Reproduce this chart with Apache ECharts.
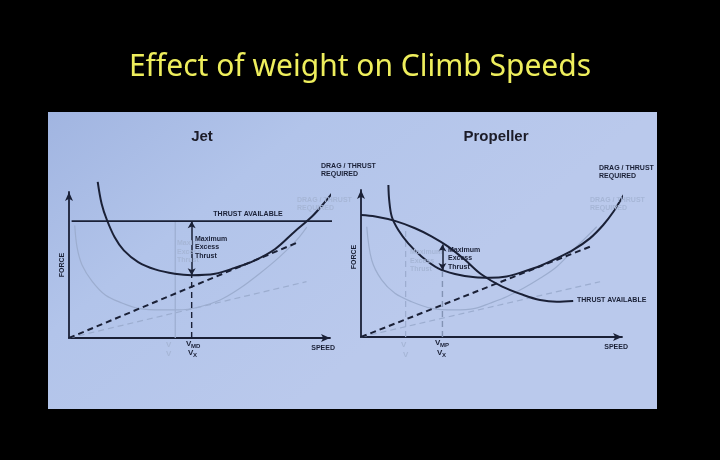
<!DOCTYPE html>
<html>
<head>
<meta charset="utf-8">
<script src="https://cdn.jsdelivr.net/npm/echarts@6/dist/echarts.min.js"></script>
<style>
  html, body { margin: 0; padding: 0; background: #000; }
  #chart { width: 720px; height: 460px; }
</style>
</head>
<body>
<div id="chart"></div>
<script>
// ---- Jet: drag / thrust required (heavy) ----
const jetSpeed = [11, 12.5, 14.5, 17.5, 21, 26.5, 33, 40.5, 47, 56, 63.5, 71, 79, 86.5, 93, 98, 102, 104.5];
const jetDrag = [107, 92, 81, 69, 60, 52, 47, 44, 43, 44, 48, 53, 61, 73, 83, 93, 102, 108];
const jetThrustSpeed = [1, 103];
const jetThrust = [80, 80];
const jetTangentSpeed = [0, 87];
const jetTangentForce = [0, 65];
const jetVmd = 47;        // speed of V_MD / V_X
const jetVmdDrag = 43;    // drag at V_MD

// jet, light aircraft (faint curves)
const jetLightSpeed = [2.2, 3.1, 5, 8.8, 13.9, 20.3, 26.7, 35.6, 42, 50.2, 57.9, 65.5, 73.2, 80.8, 87.2, 91.1];
const jetLightDrag = [77, 62, 50, 39, 29.5, 24, 20.3, 19.2, 19.2, 21.4, 26, 34, 44.3, 55.7, 67, 76];
const jetLightTangentSpeed = [0, 91];
const jetLightTangentForce = [0, 38.6];
const jetLightVmd = 40.7;

// ---- Propeller ----
const propSpeed = [10.5, 10.8, 11.8, 14.3, 18.1, 23.3, 29.6, 36, 43.7, 49.4, 55.8, 62.2, 68.6, 75, 81.3, 87.7, 92.8, 96.7, 99.9, 103.1];
const propDrag = [103.4, 93.2, 81.8, 72.8, 63.7, 54.6, 46.7, 42.9, 40.6, 40.3, 41.2, 44.4, 48.3, 53.5, 59.2, 67.1, 76.2, 85.2, 94.4, 103.4];
const propThrustSpeed = [0, 5.5, 13, 20.7, 27, 33.4, 39.8, 46.2, 53.9, 62.2, 68.6, 75, 81.3];
const propThrust = [83, 82, 79, 74, 68.5, 61.5, 52.5, 42.5, 34.5, 28.6, 25.2, 24, 24.5];
const propTangentSpeed = [0, 87.7];
const propTangentForce = [0, 61.4];
const propVmp = 31.2;
const propVmpDrag = 45.5;
const propVmpThrust = 63;

const propLightSpeed = [2.2, 4.1, 7.9, 13, 19.4, 27.1, 36, 43.7, 49.4, 55.8, 62.2, 68.6, 75, 81.3, 86.5, 90.3];
const propLightDrag = [75, 52.4, 38.8, 29.7, 24, 19.5, 18.4, 19.5, 23, 27.4, 33.1, 39.9, 47.8, 59.2, 68.2, 75];
const propLightTangentSpeed = [0, 91.6];
const propLightTangentForce = [0, 37.6];
const propLightVmp = 17.1;
const propLightVmpTop = 74;

const INK = '#1a2036';
const FAINT = '#9cadcf';
const FAINT_TEXT = '#a6b6d6';
const LBL = 'bold 7px "Liberation Sans", Arial, sans-serif';
const V_FONT = 'bold 8px "Liberation Sans", Arial, sans-serif';
const SUB_FONT = 'bold 6px "Liberation Sans", Arial, sans-serif';

const pair = (xs, ys) => xs.map((x, i) => [x, ys[i]]);

function curve(idx, xs, ys, opts) {
  opts = opts || {};
  return {
    type: 'line',
    xAxisIndex: idx,
    yAxisIndex: idx,
    data: pair(xs, ys),
    smooth: opts.smooth ? 0.35 : false,
    showSymbol: false,
    clip: false,
    silent: true,
    lineStyle: {
      color: opts.color || INK,
      width: opts.width || 2,
      type: opts.dashed ? [6, 4] : 'solid'
    },
    z: opts.z || 3
  };
}

function arrow(idx, speed, top, bottom) {
  return {
    type: 'line',
    xAxisIndex: idx,
    yAxisIndex: idx,
    data: [],
    silent: true,
    markLine: {
      silent: true,
      symbol: ['arrow', 'arrow'],
      symbolSize: [6, 7],
      label: { show: false },
      lineStyle: { color: INK, width: 1.5, type: 'solid' },
      data: [[{ coord: [speed, top] }, { coord: [speed, bottom] }]]
    },
    z: 4
  };
}

function axisPair(idx) {
  const line = { show: true, symbol: ['none', 'arrow'], symbolSize: [6, 9], lineStyle: { color: INK, width: 1.8 } };
  return {
    x: { type: 'value', gridIndex: idx, min: 0, max: 100, axisLine: line, axisTick: { show: false }, axisLabel: { show: false }, splitLine: { show: false } },
    y: { type: 'value', gridIndex: idx, min: 0, max: 100, axisLine: line, axisTick: { show: false }, axisLabel: { show: false }, splitLine: { show: false } }
  };
}

function txt(x, y, text, o) {
  o = o || {};
  return {
    type: 'text',
    x: x, y: y,
    rotation: o.rot || 0,
    silent: true,
    z: 10,
    style: {
      text: text,
      font: o.font || LBL,
      fill: o.fill || INK,
      textAlign: o.align || 'left',
      align: o.align || 'left',
      textVerticalAlign: 'middle',
      verticalAlign: 'middle',
      lineHeight: o.lh || 8.5
    }
  };
}

const ax0 = axisPair(0), ax1 = axisPair(1);

const graphics = [
  {
    type: 'rect', z: -10, silent: true,
    shape: { x: 48, y: 112, width: 609, height: 297 },
    style: {
      fill: new echarts.graphic.LinearGradient(0, 0, 0.4, 1, [
        { offset: 0, color: '#a1b5e1' },
        { offset: 0.45, color: '#b2c4ea' },
        { offset: 1, color: '#bac9ec' }
      ])
    }
  },
  txt(360, 67, 'Effect of weight on Climb Speeds', { align: 'center', fill: '#eeee5c', font: '30px "Noto Sans", sans-serif' }),
  txt(202, 137, 'Jet', { align: 'center', font: 'bold 15px "Liberation Sans", Arial, sans-serif', fill: '#1c1c28' }),
  txt(496, 137, 'Propeller', { align: 'center', font: 'bold 15px "Liberation Sans", Arial, sans-serif', fill: '#1c1c28' }),

  // jet annotations
  txt(297, 204, 'DRAG / THRUST\nREQUIRED', { fill: FAINT_TEXT }),
  txt(177, 252, 'Maximum\nExcess\nThrust', { fill: FAINT_TEXT }),
  txt(166, 345, 'V', { font: V_FONT, fill: FAINT_TEXT }),
  txt(166, 354, 'V', { font: V_FONT, fill: FAINT_TEXT }),
  txt(321, 170, 'DRAG / THRUST\nREQUIRED'),
  txt(248, 214, 'THRUST AVAILABLE', { align: 'center' }),
  txt(195, 247.5, 'Maximum\nExcess\nThrust'),
  txt(62, 265, 'FORCE', { rot: Math.PI / 2, align: 'center' }),
  txt(335, 348, 'SPEED', { align: 'right' }),
  txt(186, 344, 'V', { font: V_FONT }),
  txt(191, 346, 'MD', { font: SUB_FONT }),
  txt(188, 353, 'V', { font: V_FONT }),
  txt(193, 355.5, 'X', { font: SUB_FONT }),

  // propeller annotations
  txt(590, 204, 'DRAG / THRUST\nREQUIRED', { fill: FAINT_TEXT }),
  txt(410, 261, 'Maximum\nExcess\nThrust', { fill: FAINT_TEXT }),
  txt(401, 345, 'V', { font: V_FONT, fill: FAINT_TEXT }),
  txt(403, 355, 'V', { font: V_FONT, fill: FAINT_TEXT }),
  txt(599, 172, 'DRAG / THRUST\nREQUIRED'),
  txt(577, 300, 'THRUST AVAILABLE'),
  txt(448, 258.5, 'Maximum\nExcess\nThrust'),
  txt(354, 257, 'FORCE', { rot: Math.PI / 2, align: 'center' }),
  txt(628, 347, 'SPEED', { align: 'right' }),
  txt(435, 343, 'V', { font: V_FONT }),
  txt(440, 345, 'MP', { font: SUB_FONT }),
  txt(437, 353, 'V', { font: V_FONT }),
  txt(442, 355.5, 'X', { font: SUB_FONT })
];

const chart = echarts.init(document.getElementById('chart'));
chart.setOption({
  backgroundColor: '#000',
  animation: false,
  grid: [
    { left: 69, top: 192, width: 261, height: 146 },
    { left: 361, top: 190, width: 261, height: 147 }
  ],
  xAxis: [ax0.x, ax1.x],
  yAxis: [ax0.y, ax1.y],
  graphic: graphics,
  series: [
    // jet, faint (lighter weight)
    curve(0, jetLightSpeed, jetLightDrag, { smooth: true, color: FAINT, width: 1.2, z: 2 }),
    curve(0, jetLightTangentSpeed, jetLightTangentForce, { dashed: true, color: FAINT, width: 1.2, z: 2 }),
    curve(0, [jetLightVmd, jetLightVmd], [0, 80], { color: FAINT, width: 1.2, z: 2 }),
    // jet, main
    curve(0, jetThrustSpeed, jetThrust, { width: 1.7 }),
    curve(0, jetSpeed, jetDrag, { smooth: true }),
    curve(0, jetTangentSpeed, jetTangentForce, { dashed: true }),
    curve(0, [jetVmd, jetVmd], [0, jetVmdDrag], { dashed: true, width: 1.4 }),
    arrow(0, jetVmd, jetThrust[0], jetVmdDrag),

    // propeller, faint
    curve(1, propLightSpeed, propLightDrag, { smooth: true, color: FAINT, width: 1.2, z: 2 }),
    curve(1, propLightTangentSpeed, propLightTangentForce, { dashed: true, color: FAINT, width: 1.2, z: 2 }),
    curve(1, [propLightVmp, propLightVmp], [0, propLightVmpTop], { dashed: true, color: FAINT, width: 1.2, z: 2 }),
    // propeller, main
    curve(1, propThrustSpeed, propThrust, { smooth: true }),
    curve(1, propSpeed, propDrag, { smooth: true }),
    curve(1, propTangentSpeed, propTangentForce, { dashed: true }),
    curve(1, [propVmp, propVmp], [0, propVmpDrag], { dashed: true, width: 1.4, color: '#8393b4' }),
    arrow(1, propVmp, propVmpThrust, propVmpDrag)
  ]
});
</script>
</body>
</html>
